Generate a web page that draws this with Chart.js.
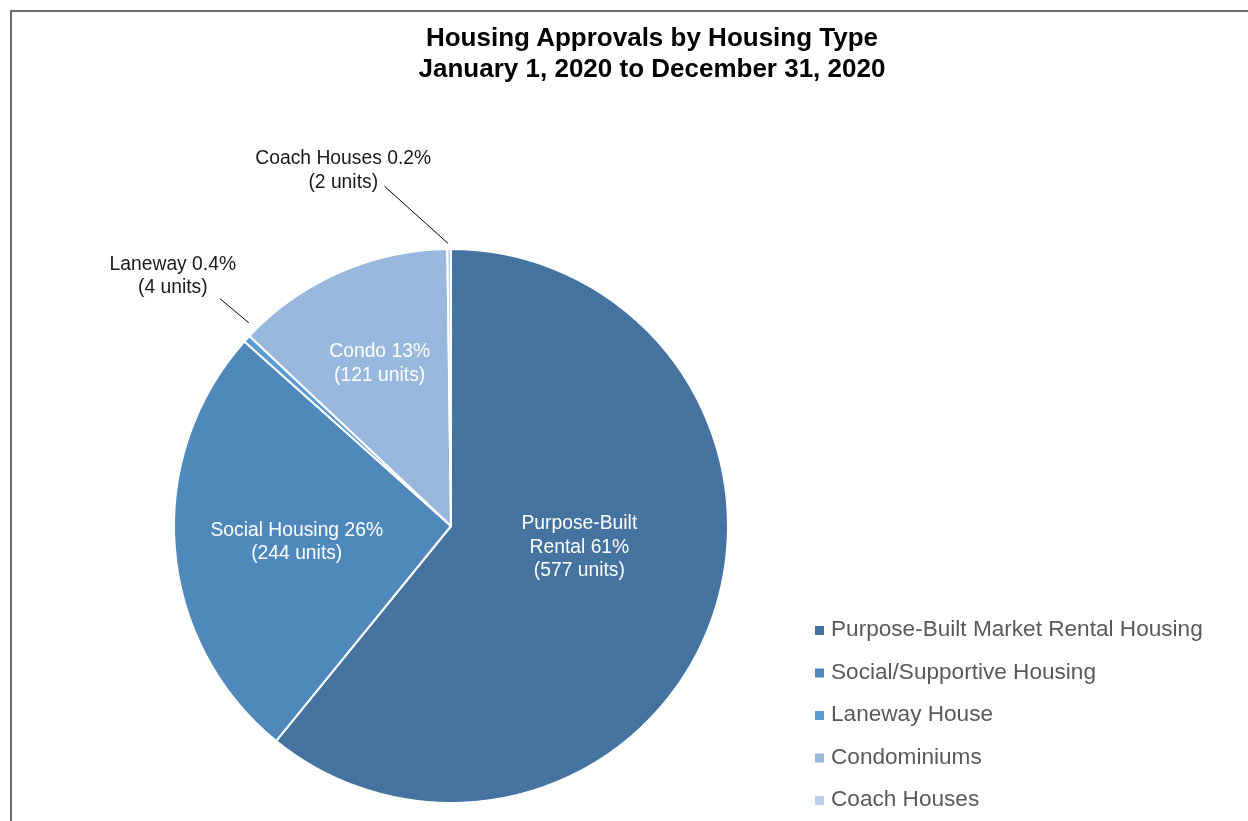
<!DOCTYPE html>
<html>
<head>
<meta charset="utf-8">
<script src="https://cdn.jsdelivr.net/npm/chart.js@4.4.1/dist/chart.umd.min.js"></script>
<style>
  body { margin: 0; background: #fff; }
  #wrap { position: relative; width: 1248px; height: 821px; overflow: hidden; }
  #frame { position: absolute; left: 10px; top: 10px; width: 1400px; height: 900px;
           border-top: 2px solid #6b6b6b; border-left: 2px solid #6b6b6b; }
  #title { position: absolute; left: 56px; width: 1192px; top: 22px; text-align: center;
           font: bold 26px "Liberation Sans", Arial, sans-serif; line-height: 31px; color: #000; }
  canvas { position: absolute; left: 0; top: 0; }
</style>
</head>
<body>
<div id="wrap">
  <div id="frame"></div>
  <canvas id="pie" width="1248" height="821"></canvas>
  <div id="title">Housing Approvals by Housing Type<br>January 1, 2020 to December 31, 2020</div>
</div>
<script>
// Дані
const categories = ['Purpose-Built Market Rental Housing', 'Social/Supportive Housing', 'Laneway House', 'Condominiums', 'Coach Houses'];
const units = [577, 244, 4, 121, 2];
const sliceLabels = [
    ['Purpose-Built', 'Rental 61%', '(577 units)'],
    ['Social Housing 26%', '(244 units)'],
    ['Laneway 0.4%', '(4 units)'],
    ['Condo 13%', '(121 units)'],
    ['Coach Houses 0.2%', '(2 units)']
];
const colors = ['#44739f', '#4f89bc', '#5b9bd5', '#99b8de', '#bdd1eb'];

// Розміщення підписів (частка радіуса, зсув кута в градусах)
const labelPlace = [
    { r: 0.47, da: -10 },
    { r: 0.56, da: -1.5 },
    { r: 1.35, da: -0.6, outside: true, l1: { r: 1.035, da: 2.6 }, l2: { r: 1.17, da: 2.0 } },
    { r: 0.64, da: 0 },
    { r: 1.34, da: -16.5, outside: true, l1: { r: 1.02, da: -0.2 }, l2: { r: 1.25, da: -10.7 } }
];

const FONT = '"Liberation Sans", Arial, sans-serif';

const sliceLabelPlugin = {
    id: 'sliceLabels',
    afterDatasetsDraw(chart) {
        const ctx = chart.ctx;
        const meta = chart.getDatasetMeta(0);
        meta.data.forEach((arc, i) => {
            const p = arc.getProps(['x', 'y', 'startAngle', 'endAngle', 'outerRadius']);
            const mid = (p.startAngle + p.endAngle) / 2;
            const cfg = labelPlace[i];
            const pt = (r, da) => {
                const a = mid + da * Math.PI / 180;
                return [p.x + Math.cos(a) * p.outerRadius * r, p.y + Math.sin(a) * p.outerRadius * r];
            };
            const [tx, ty] = pt(cfg.r, cfg.da);
            ctx.save();
            if (cfg.outside) {
                const a = pt(cfg.l1.r, cfg.l1.da);
                const b = pt(cfg.l2.r, cfg.l2.da);
                ctx.strokeStyle = '#000';
                ctx.lineWidth = 1;
                ctx.beginPath();
                ctx.moveTo(a[0], a[1]);
                ctx.lineTo(b[0], b[1]);
                ctx.stroke();
            }
            ctx.fillStyle = cfg.outside ? '#1a1a1a' : '#ffffff';
            ctx.font = '19.3px ' + FONT;
            ctx.textAlign = 'center';
            ctx.textBaseline = 'middle';
            const lines = sliceLabels[i];
            const lh = 23.5;
            lines.forEach((t, k) => {
                ctx.fillText(t, tx, ty + (k - (lines.length - 1) / 2) * lh);
            });
            ctx.restore();
        });
    }
};

// Легенда справа внизу
const legendPlugin = {
    id: 'sideLegend',
    afterDraw(chart) {
        const ctx = chart.ctx;
        ctx.save();
        ctx.font = '22.6px ' + FONT;
        ctx.textBaseline = 'middle';
        ctx.textAlign = 'left';
        categories.forEach((c, i) => {
            const y = 630 + i * 42.5;
            ctx.fillStyle = colors[i];
            ctx.fillRect(815, y - 4, 9, 9);
            ctx.fillStyle = '#595959';
            ctx.fillText(c, 831, y);
        });
        ctx.restore();
    }
};

new Chart(document.getElementById('pie'), {
    type: 'pie',
    data: {
        labels: categories,
        datasets: [{
            data: units,
            backgroundColor: colors,
            borderColor: '#ffffff',
            borderWidth: 2
        }]
    },
    options: {
        responsive: false,
        animation: false,
        layout: {
            padding: { top: 248, bottom: 17, left: 173, right: 519 }
        },
        plugins: {
            legend: { display: false },
            title: { display: false },
            tooltip: { enabled: false }
        }
    },
    plugins: [sliceLabelPlugin, legendPlugin]
});
</script>
</body>
</html>
